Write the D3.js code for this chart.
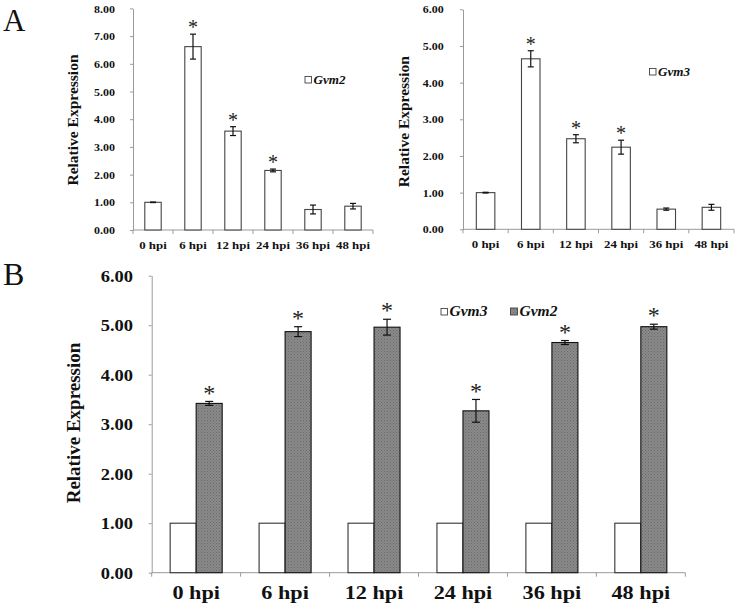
<!DOCTYPE html>
<html><head><meta charset="utf-8">
<script src="https://cdn.jsdelivr.net/npm/d3@7/dist/d3.min.js"></script>
<style>body{margin:0;background:#fff}svg{display:block}</style>
</head><body>
<svg id="c" width="736" height="605"></svg>
<script>
const categories = ["0 hpi","6 hpi","12 hpi","24 hpi","36 hpi","48 hpi"];
// Panel A left: Gvm2
const gvm2A = [1.00, 6.62, 3.57, 2.15, 0.74, 0.86];
const gvm2AErr = [0.01, 0.45, 0.16, 0.05, 0.16, 0.10];
const gvm2ASig = [false, true, true, true, false, false];
const yTicksAL = [0,1,2,3,4,5,6,7,8];
// Panel A right: Gvm3
const gvm3A = [1.00, 4.65, 2.47, 2.24, 0.55, 0.60];
const gvm3AErr = [0.01, 0.22, 0.11, 0.19, 0.03, 0.08];
const gvm3ASig = [false, true, true, true, false, false];
const yTicksAR = [0,1,2,3,4,5,6];
// Panel B: Gvm3 vs Gvm2
const seriesB = ["Gvm3","Gvm2"];
const gvm3B = [1.00, 1.00, 1.00, 1.00, 1.00, 1.00];
const gvm3BErr = [0, 0, 0, 0, 0, 0];
const gvm2B = [3.42, 4.87, 4.96, 3.27, 4.65, 4.97];
const gvm2BErr = [0.04, 0.10, 0.16, 0.23, 0.04, 0.05];
const gvm2BSig = [true, true, true, true, true, true];
const yTicksB = [0,1,2,3,4,5,6];

const svg = d3.select("#c");
const FONT = '"Liberation Serif", "Times New Roman", serif';
const fmt = d3.format(".2f");

const defs = svg.append("defs");
const pat = defs.append("pattern").attr("id","grey").attr("patternUnits","userSpaceOnUse")
  .attr("width",3).attr("height",3);
pat.append("rect").attr("width",3).attr("height",3).attr("fill","#8a8a8a");
pat.append("rect").attr("x",0).attr("y",0).attr("width",1).attr("height",1).attr("fill","#6a6a6a");
pat.append("rect").attr("x",1.5).attr("y",1.5).attr("width",1).attr("height",1).attr("fill","#707070");

function font(sel, size, weight, style) {
  return sel.style("font-family", FONT).style("font-size", size + "px")
    .style("font-weight", weight || "normal").style("font-style", style || "normal");
}
function stretchText(sel, sx, x, y, rot) {
  sel.attr("transform", `translate(${x},${y})` + (rot ? ` rotate(${rot})` : "") + ` scale(${sx},1)`);
}

function panel(o) {
  const g = svg.append("g");
  const x = d3.scaleBand().domain(categories).range([o.x0, o.x1])
    .paddingInner(o.pi).paddingOuter(o.pi/2);
  const y = d3.scaleLinear().domain([0, o.ymax]).range([o.y0, o.yTop]);
  const ya = g.append("g").attr("transform", `translate(${o.x0},0)`)
    .call(d3.axisLeft(y).tickValues(o.yTicks).tickFormat(fmt).tickSize(3).tickPadding(o.tpad).tickSizeOuter(0));
  ya.select(".domain").attr("stroke","#9a9a9a");
  ya.selectAll(".tick line").attr("stroke","#9a9a9a");
  font(ya.selectAll("text"), o.tfs, "bold").attr("fill","#111").attr("dy","0.34em")
    .attr("transform",`scale(${o.sx},1)`);
  g.append("line").attr("x1",o.x0).attr("x2",o.x1).attr("y1",y(0)).attr("y2",y(0))
    .attr("stroke","#9a9a9a");
  const step = x.step();
  g.selectAll(".bt").data(d3.range(categories.length+1)).join("line")
    .attr("x1",i=>o.x0+i*step).attr("x2",i=>o.x0+i*step)
    .attr("y1",y(0)).attr("y2",y(0)+4).attr("stroke","#9a9a9a");
  font(g.selectAll(".xl").data(categories).join("text"), o.xfs, "bold")
    .attr("text-anchor","middle").attr("fill","#111").text(d=>d)
    .each(function(d){ stretchText(d3.select(this), o.sx, x(d)+x.bandwidth()/2, o.xly); });
  font(g.append("text"), o.yfs, "bold")
    .attr("text-anchor","middle").attr("fill","#111")
    .attr("transform",`translate(${o.ylx},${o.yly}) rotate(-90)`).text("Relative Expression");
  return {g, x, y};
}

function bars(g, xs, y, data, errs, sig, fill, stroke, cap, afs, agap) {
  const bw = xs.bw;
  g.selectAll(null).data(data).join("rect")
    .attr("x",(d,i)=>xs.pos(i)).attr("width",bw)
    .attr("y",d=>y(d)).attr("height",d=>y(0)-y(d))
    .attr("fill",fill).attr("stroke",stroke).attr("stroke-width",1.1);
  data.forEach((d,i)=>{
    const cx = xs.pos(i)+bw/2, e = errs[i];
    if (e > 0) {
      const t = y(d+e), b = y(d-e);
      g.append("line").attr("x1",cx).attr("x2",cx).attr("y1",t).attr("y2",b).attr("stroke","#111").attr("stroke-width",1.2);
      [t,b].forEach(v=>g.append("line").attr("x1",cx-cap).attr("x2",cx+cap).attr("y1",v).attr("y2",v).attr("stroke","#111").attr("stroke-width",1.2));
    }
    if (sig && sig[i]) {
      const top = y(d+e);
      font(g.append("text"), afs).attr("text-anchor","middle")
        .attr("fill","#222").attr("x",cx).attr("y",top-agap+afs*0.55).text("*");
    }
  });
}

function legendItem(g, x, yb, sq, fill, label, fs, sx) {
  g.append("rect").attr("x",x).attr("y",yb-sq-0.5).attr("width",sq).attr("height",sq)
    .attr("fill",fill).attr("stroke","#444").attr("stroke-width",0.9);
  const t = font(g.append("text"), fs, "bold", "italic").attr("fill","#111").text(label);
  stretchText(t, sx, x+sq+2, yb);
}

font(svg.append("text"), 31).attr("x",3).attr("y",31).attr("fill","#111").text("A");
font(svg.append("text"), 32).attr("x",3).attr("y",285).attr("fill","#111").text("B");

// A left
{
  const p = panel({x0:133, x1:373, y0:230, yTop:8.4, ymax:8, yTicks:yTicksAL, pi:0.59,
    tpad:13, tfs:10.6, sx:1.13, xfs:11.4, xly:249, yfs:15.5, ylx:78, yly:120});
  const xs = {bw:p.x.bandwidth(), pos:i=>p.x(categories[i])};
  bars(p.g, xs, p.y, gvm2A, gvm2AErr, gvm2ASig, "#fff", "#444", 3, 20, 11);
  legendItem(p.g, 305, 83.5, 6.5, "#fff", "Gvm2", 11.5, 1.14);
}
// A right
{
  const p = panel({x0:463, x1:734, y0:229.3, yTop:9.3, ymax:6, yTicks:yTicksAR, pi:0.59,
    tpad:14, tfs:10.6, sx:1.13, xfs:11.4, xly:248, yfs:15.5, ylx:409, yly:121.7});
  const xs = {bw:p.x.bandwidth(), pos:i=>p.x(categories[i])};
  bars(p.g, xs, p.y, gvm3A, gvm3AErr, gvm3ASig, "#fff", "#444", 3, 20, 11);
  legendItem(p.g, 649.5, 75.5, 6.5, "#fff", "Gvm3", 11.5, 1.14);
}
// B
{
  const p = panel({x0:151.7, x1:685.3, y0:572.7, yTop:275.7, ymax:6, yTicks:yTicksB, pi:0.415,
    tpad:13, tfs:15.8, sx:1.17, xfs:19, xly:598.5, yfs:19, ylx:80, yly:423});
  const inner = d3.scaleBand().domain(seriesB).range([0, p.x.bandwidth()]);
  const xs3 = {bw:inner.bandwidth(), pos:i=>p.x(categories[i])+inner("Gvm3")};
  const xs2 = {bw:inner.bandwidth(), pos:i=>p.x(categories[i])+inner("Gvm2")};
  bars(p.g, xs3, p.y, gvm3B, gvm3BErr, null, "#fff", "#333", 4, 24, 14);
  bars(p.g, xs2, p.y, gvm2B, gvm2BErr, gvm2BSig, "url(#grey)", "#111", 4, 24, 14);
  legendItem(p.g, 441, 315.5, 6.5, "#fff", "Gvm3", 13.6, 1.14);
  legendItem(p.g, 510.5, 315.5, 7, "url(#grey)", "Gvm2", 13.6, 1.14);
}
</script>
</body></html>
